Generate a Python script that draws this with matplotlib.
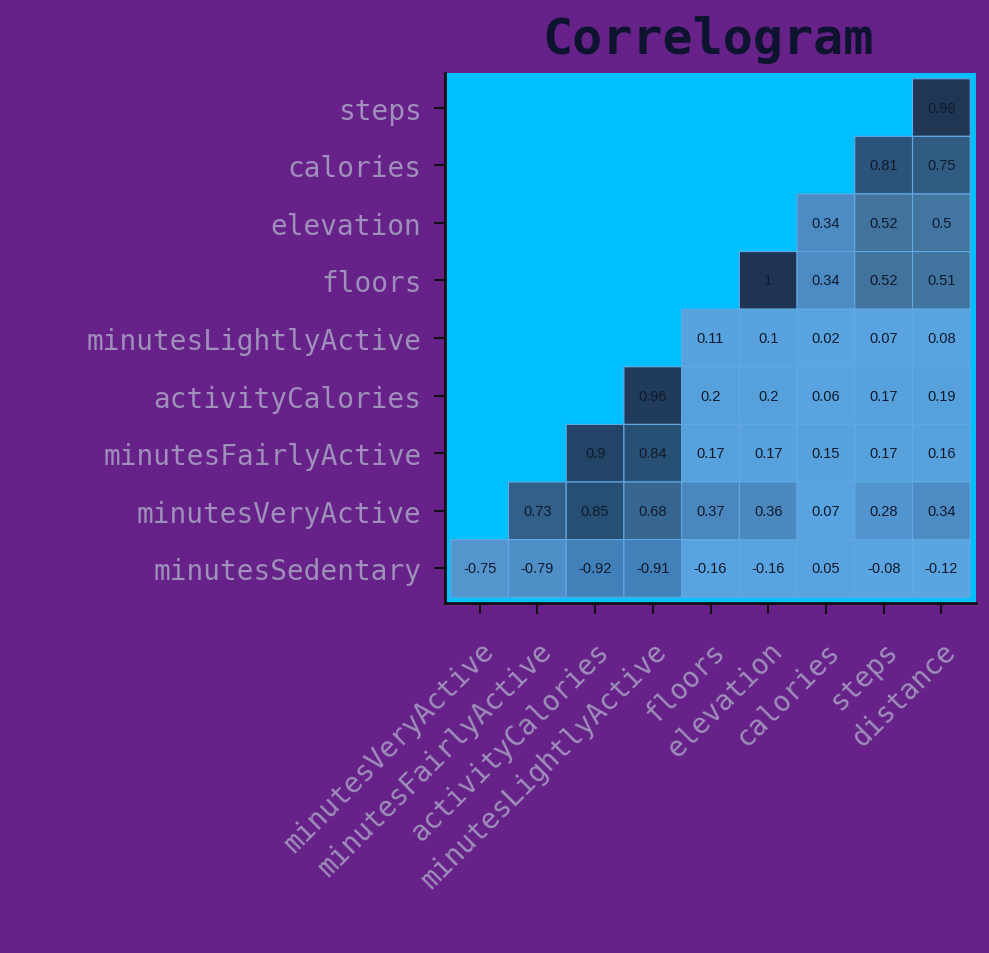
import numpy as np
import matplotlib
matplotlib.use("Agg")
import matplotlib.pyplot as plt
from matplotlib.colors import LinearSegmentedColormap, Normalize

row_labels = ["steps", "calories", "elevation", "floors", "minutesLightlyActive",
              "activityCalories", "minutesFairlyActive", "minutesVeryActive",
              "minutesSedentary"]
col_labels = ["minutesVeryActive", "minutesFairlyActive", "activityCalories",
              "minutesLightlyActive", "floors", "elevation", "calories", "steps",
              "distance"]

nan = np.nan
r_steps = [nan, nan, nan, nan, nan, nan, nan, nan, 0.98]
r_calories = [nan, nan, nan, nan, nan, nan, nan, 0.81, 0.75]
r_elevation = [nan, nan, nan, nan, nan, nan, 0.34, 0.52, 0.5]
r_floors = [nan, nan, nan, nan, nan, 1, 0.34, 0.52, 0.51]
r_light = [nan, nan, nan, nan, 0.11, 0.1, 0.02, 0.07, 0.08]
r_actcal = [nan, nan, nan, 0.96, 0.2, 0.2, 0.06, 0.17, 0.19]
r_fairly = [nan, nan, 0.9, 0.84, 0.17, 0.17, 0.15, 0.17, 0.16]
r_very = [nan, 0.73, 0.85, 0.68, 0.37, 0.36, 0.07, 0.28, 0.34]
r_sed = [-0.75, -0.79, -0.92, -0.91, -0.16, -0.16, 0.05, -0.08, -0.12]

corr = np.array([r_steps, r_calories, r_elevation, r_floors, r_light,
                 r_actcal, r_fairly, r_very, r_sed], dtype=float)

cmap_pts = [(-1.0, "#3E7BB3"), (-0.9, "#4281B9"), (-0.75, "#5595CE"),
            (-0.5, "#58A0DB"), (0.0, "#5AA5E2"), (0.2, "#56A0DC"),
            (0.35, "#4C8AC3"), (0.5, "#42759F"), (0.7, "#36658F"),
            (0.85, "#274E73"), (1.0, "#1E3452")]
cmap = LinearSegmentedColormap.from_list(
    "corr", [((v + 1) / 2, c) for v, c in cmap_pts])

BG = "#662288"
AXBG = "#00BFFF"
TICKC = "#A08EBC"

fig = plt.figure(figsize=(9.89, 9.54), dpi=100, facecolor=BG)
ax = fig.add_axes([445 / 989, 1 - 604 / 954, (976 - 445) / 989, (604 - 74) / 954])
ax.set_facecolor(AXBG)

n_r, n_c = corr.shape
data = np.ma.masked_invalid(corr)
ax.pcolor(np.arange(n_c + 1) - 0.5, np.arange(n_r + 1) - 0.5, data,
          cmap=cmap, norm=Normalize(-1, 1), edgecolors="#62A9E4",
          linewidth=0.8)

for i in range(n_r):
    for j in range(n_c):
        v = corr[i, j]
        if not np.isnan(v):
            ax.text(j, i, f"{v:g}", ha="center", va="center",
                    fontsize=10.5, color="#0F1A2C", family="Liberation Sans")

ax.set_xlim(-0.6, n_c - 0.4)
ax.set_ylim(n_r - 0.4, -0.6)
ax.set_xticks(range(n_c))
ax.set_yticks(range(n_r))
ax.set_xticklabels(col_labels, rotation=45, ha="right", va="top",
                   rotation_mode="anchor", family="DejaVu Sans Mono",
                   fontsize=20, color=TICKC)
ax.set_yticklabels(row_labels, family="DejaVu Sans Mono", fontsize=20,
                   color=TICKC)
ax.tick_params(axis="both", length=8, width=1.5, color="#111111")
ax.tick_params(axis="y", pad=9)
ax.tick_params(axis="x", pad=16)
for s in ["top", "right"]:
    ax.spines[s].set_visible(False)
for s in ["left", "bottom"]:
    ax.spines[s].set_color("#111111")
    ax.spines[s].set_linewidth(2)

fig.text(708 / 989, 1 - 40 / 954, "Correlogram", ha="center", va="center",
         fontsize=36, family="DejaVu Sans Mono", fontweight="bold",
         color="#0E1430")

fig.savefig("out.png", dpi=100, facecolor=BG)
